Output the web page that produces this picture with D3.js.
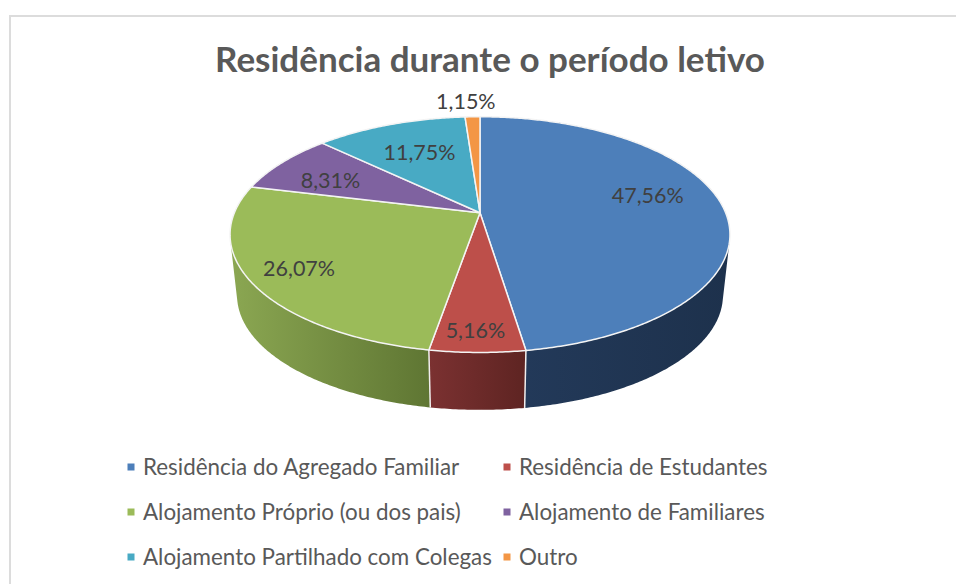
<!DOCTYPE html>
<html lang="pt">
<head>
<meta charset="utf-8">
<script src="https://cdn.jsdelivr.net/npm/d3@7"></script>
<style>
html,body{margin:0;padding:0;background:#fff;overflow:hidden}
svg{display:block}
text{font-family:Lato,"Noto Sans",sans-serif}
</style>
</head>
<body>
<svg id="chart" width="956" height="584"></svg>
<script>
const chartTitle = "Residência durante o período letivo";
const categories = ["Residência do Agregado Familiar","Residência de Estudantes","Alojamento Próprio (ou dos pais)","Alojamento de Familiares","Alojamento Partilhado com Colegas","Outro"];
const values = [47.56,5.16,26.07,8.31,11.75,1.15];
const valueLabels = ["47,56%","5,16%","26,07%","8,31%","11,75%","1,15%"];
const topColors = ["#4d7fba","#bd4f4a","#9bbb59","#7f62a0","#48aac4","#f39645"];
const wallLeft = ["#243b5c","#7b3131","#8ba752","#5f4a78","#34808f","#b86f30"];
const wallRight = ["#1d314c","#5e2422","#5f7633","#4b3a60","#2a6a78","#9a5c28"];
const labelOffsets = [[10,-12],[-3,33],[-38,12],[-17,1],[1,0],[-9,-46]];

const svg = d3.select("#chart");
const cx = 480, apexY = 212.7, persp = 0.1858, radX = 245.6, radY = 113.8;
const wallDrop = 61.3, wallShrink = 0.028;

function project(angle, r, t) {
  const u = r * Math.sin(angle), v = -r * Math.cos(angle), w = 1 - persp * v;
  const s = 1 - wallShrink * t;
  return [cx + s * radX * u / w, apexY + wallDrop * t + s * radY * v / w];
}
const arcPoints = (a0, a1, t) => {
  const n = Math.max(2, Math.ceil((a1 - a0) / 0.01));
  return d3.range(n + 1).map(i => project(a0 + (a1 - a0) * i / n, 1, t));
};
const line = d3.line();
const arcs = d3.pie().sort(null).value(d => d)(values);

// frame
svg.append("path").attr("d", line([[10,584],[10,16],[956,16]]))
  .attr("fill","none").attr("stroke","#dcdcdc").attr("stroke-width",2);

// wall gradients
const defs = svg.append("defs");
arcs.forEach((d, i) => {
  const xs = arcPoints(d.startAngle, d.endAngle, 0).map(p => p[0]);
  const a = Math.min(...xs), b = Math.max(...xs);
  const g = defs.append("linearGradient").attr("id","wall"+i)
    .attr("gradientUnits","userSpaceOnUse").attr("x1",a).attr("x2",b).attr("y1",0).attr("y2",0);
  g.append("stop").attr("offset",0).attr("stop-color",wallLeft[i]);
  g.append("stop").attr("offset",1).attr("stop-color",wallRight[i]);
});

// walls, back slices first: each slice sweeps quads from the rim down to the base
const wallOrder = [5,4,3,0,2,1];
wallOrder.forEach(i => {
  const d = arcs[i];
  const upper = arcPoints(d.startAngle, d.endAngle, 0);
  const lower = arcPoints(d.startAngle, d.endAngle, 1);
  const path = d3.range(upper.length - 1).map(k => {
    const quad = [upper[k], upper[k+1], lower[k+1], lower[k]];
    return line(d3.polygonArea(quad) < 0 ? quad.reverse() : quad) + "Z";
  }).join("");
  svg.append("path").attr("d", path).attr("fill", `url(#wall${i})`);
});
// white seams on the front of the wall
[arcs[0].endAngle, arcs[1].endAngle].forEach(a => {
  svg.append("path").attr("d", line([project(a,1,0), project(a,1,1)]))
    .attr("stroke","#f1eeee").attr("stroke-width",1.5).attr("fill","none");
});

// top face
arcs.forEach((d, i) => {
  const poly = [project(0,0,0)].concat(arcPoints(d.startAngle, d.endAngle, 0));
  svg.append("path").attr("d", line(poly) + "Z")
    .attr("fill", topColors[i]).attr("stroke","#f4f4f4").attr("stroke-width",1.5).attr("stroke-linejoin","round");
});

// value labels
arcs.forEach((d, i) => {
  const p = project((d.startAngle + d.endAngle) / 2, 0.65, 0);
  svg.append("text").attr("x", p[0] + labelOffsets[i][0]).attr("y", p[1] + labelOffsets[i][1])
    .attr("text-anchor","middle").attr("dominant-baseline","central")
    .attr("font-size",21.5).attr("fill","#404040").text(valueLabels[i]);
});

// title
svg.append("text").attr("x",490).attr("y",72).attr("text-anchor","middle")
  .attr("font-size",35).attr("font-weight",700).attr("fill","#595959").text(chartTitle);

// legend
const legendCols = [131,507], legendRows = d3.scalePoint().domain([0,1,2]).range([467,557]);
categories.forEach((c, i) => {
  const x = legendCols[i % 2], y = legendRows(Math.floor(i / 2));
  svg.append("rect").attr("x",x-3.5).attr("y",y-3.5).attr("width",7).attr("height",7).attr("fill",topColors[i]);
  svg.append("text").attr("x",x+12).attr("y",y+8).attr("font-size",22.4).attr("fill","#595959").text(c);
});
</script>
</body>
</html>
